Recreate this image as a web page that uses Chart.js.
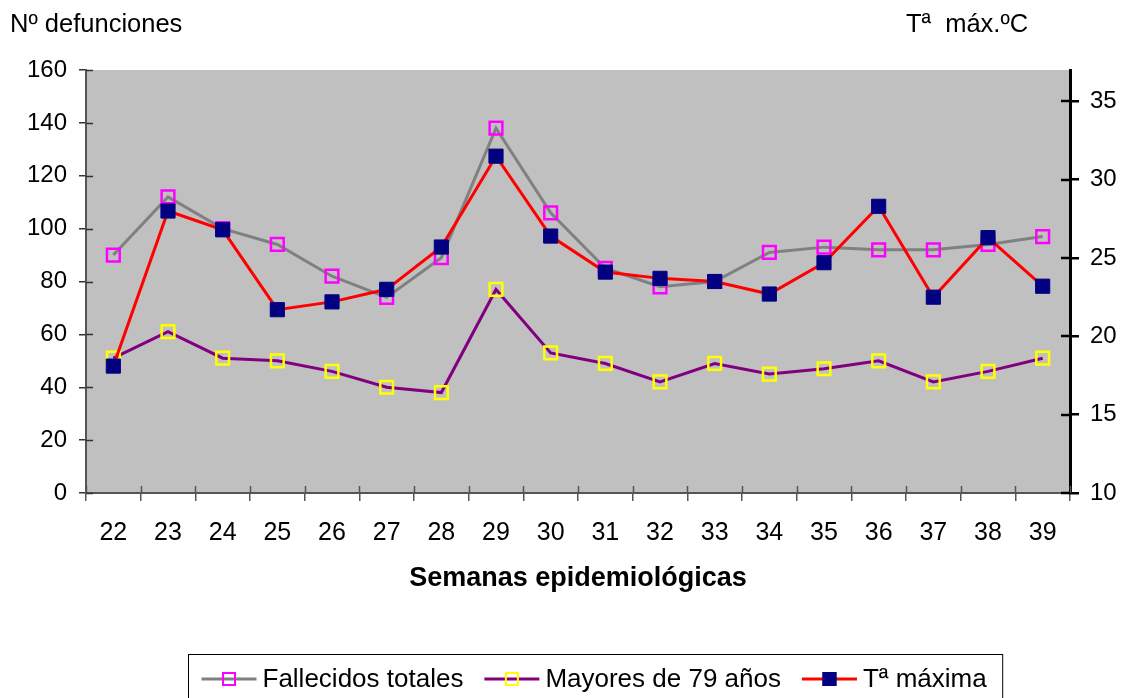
<!DOCTYPE html>
<html>
<head>
<meta charset="utf-8">
<script src="https://cdn.jsdelivr.net/npm/chart.js@4.4.1/dist/chart.umd.min.js"></script>
<style>
  body { margin: 0; background: #fff; }
  #wrap { width: 1123px; height: 698px; }
</style>
</head>
<body>
<div id="wrap"><canvas id="graph"></canvas></div>
<script>
// semanas epidemiologicas
const semanas = ['22', '23', '24', '25', '26', '27', '28', '29', '30', '31', '32', '33', '34', '35', '36', '37', '38', '39'];

// valores
const fallecidosTotales = [90, 112, 100, 94, 82, 74, 89, 138, 106, 85, 78, 80, 91, 93, 92, 92, 94, 97];
const mayores79 = [51, 61, 51, 50, 46, 40, 38, 77, 53, 49, 42, 49, 45, 47, 50, 42, 46, 51];
const tempMaxima = [18.1, 28.0, 26.8, 21.7, 22.2, 23.0, 25.7, 31.5, 26.4, 24.1, 23.7, 23.5, 22.7, 24.7, 28.3, 22.5, 26.3, 23.2];

const defuncionesTicks = [0, 20, 40, 60, 80, 100, 120, 140, 160];
const tempTicks = [10, 15, 20, 25, 30, 35];

const FONT = '"Liberation Sans", Arial, sans-serif';

// fondo gris del area de trazado
const plotBackground = {
  id: 'plotBackground',
  beforeDraw(chart) {
    const { ctx, chartArea: a } = chart;
    ctx.save();
    ctx.fillStyle = '#c0c0c0';
    ctx.fillRect(a.left, a.top, a.right - a.left, a.bottom - a.top);
    ctx.restore();
  }
};

// marcas que cruzan el eje (parte interior) y titulos superiores
const crossTicks = {
  id: 'crossTicks',
  afterDraw(chart) {
    const { ctx, scales } = chart;
    ctx.save();

    const x = scales.x;
    ctx.strokeStyle = '#555';
    ctx.lineWidth = 1.5;
    for (let i = 0; i <= semanas.length; i++) {
      const px = Math.round(x.getPixelForValue(i - 0.5)) + 0.5;
      ctx.beginPath();
      ctx.moveTo(px, x.top);
      ctx.lineTo(px, x.top - 7);
      ctx.stroke();
    }

    const y = scales.y;
    ctx.strokeStyle = '#333';
    y.ticks.forEach(t => {
      const py = Math.round(y.getPixelForValue(t.value)) + 0.5;
      ctx.beginPath();
      ctx.moveTo(y.right, py);
      ctx.lineTo(y.right + 7, py);
      ctx.stroke();
    });

    const y2 = scales.y2;
    ctx.strokeStyle = '#000';
    ctx.lineWidth = 2.5;
    y2.ticks.forEach(t => {
      const py = Math.round(y2.getPixelForValue(t.value));
      ctx.beginPath();
      ctx.moveTo(y2.left, py);
      ctx.lineTo(y2.left - 9, py);
      ctx.stroke();
    });

    ctx.fillStyle = '#000';
    ctx.font = '25.5px ' + FONT;
    ctx.textBaseline = 'middle';
    ctx.textAlign = 'left';
    ctx.fillText('Nº defunciones', 10, 25);
    ctx.fillText('Tª  máx.ºC', 906, 25);

    ctx.restore();
  }
};

// leyenda con linea y marcador, dentro de un recuadro
const boxLegend = {
  id: 'boxLegend',
  afterDraw(chart) {
    const { ctx } = chart;
    const sets = chart.data.datasets;
    ctx.save();
    ctx.font = '26px ' + FONT;
    const sample = 55, gapText = 6, gapItem = 21, padL = 13, padR = 16;
    const widths = sets.map(d => ctx.measureText(d.label).width);
    let total = padL + padR;
    widths.forEach((w, i) => { total += sample + gapText + w + (i < sets.length - 1 ? gapItem : 0); });
    const left = Math.round(595 - total / 2) + 0.5;
    const top = 654.5, h = 50, cy = 679;

    ctx.strokeStyle = '#000';
    ctx.lineWidth = 1;
    ctx.strokeRect(left, top, total, h);

    let cx = left + padL;
    sets.forEach((d, i) => {
      ctx.strokeStyle = d.borderColor;
      ctx.lineWidth = 3;
      ctx.beginPath();
      ctx.moveTo(cx, cy);
      ctx.lineTo(cx + sample, cy);
      ctx.stroke();
      const s = 14;
      if (d.pointBackgroundColor !== 'transparent') {
        ctx.fillStyle = d.pointBackgroundColor;
        ctx.fillRect(cx + sample / 2 - s / 2, cy - s / 2, s, s);
      }
      ctx.strokeStyle = d.pointBorderColor;
      ctx.lineWidth = 2;
      ctx.strokeRect(cx + sample / 2 - s / 2 + 1, cy - s / 2 + 1, s - 2, s - 2);

      ctx.fillStyle = '#000';
      ctx.textBaseline = 'middle';
      ctx.fillText(d.label, cx + sample + gapText, cy + 1);
      cx += sample + gapText + widths[i] + gapItem;
    });
    ctx.restore();
  }
};

const config = {
  type: 'line',
  data: {
    labels: semanas,
    datasets: [
      {
        label: 'Fallecidos totales',
        data: fallecidosTotales,
        yAxisID: 'y',
        borderColor: '#808080',
        borderWidth: 3,
        pointStyle: 'rect',
        pointRadius: 9,
        pointBorderWidth: 2.5,
        pointBorderColor: '#ff00ff',
        pointBackgroundColor: 'transparent',
        order: 1
      }, {
        label: 'Mayores de 79 años',
        data: mayores79,
        yAxisID: 'y',
        borderColor: '#800080',
        borderWidth: 3,
        pointStyle: 'rect',
        pointRadius: 9,
        pointBorderWidth: 2.5,
        pointBorderColor: '#ffff00',
        pointBackgroundColor: 'transparent',
        order: 2
      }, {
        label: 'Tª máxima',
        data: tempMaxima,
        yAxisID: 'y2',
        borderColor: '#ff0000',
        borderWidth: 3,
        pointStyle: 'rect',
        pointRadius: 10,
        pointBorderWidth: 1,
        pointBorderColor: '#000080',
        pointBackgroundColor: '#000080',
        order: 0
      }
    ]
  },
  options: {
    responsive: true,
    maintainAspectRatio: false,
    animation: false,
    layout: { padding: { top: 70, left: 0, right: 0, bottom: 0 } },
    plugins: {
      legend: { display: false },
      tooltip: { enabled: false }
    },
    scales: {
      x: {
        offset: true,
        grid: { offset: true, drawOnChartArea: false, tickLength: 8, color: '#555', lineWidth: 1.5 },
        border: { color: '#555', width: 2 },
        ticks: { color: '#000', font: { family: FONT, size: 25 }, padding: 17, maxRotation: 0, autoSkip: false },
        title: {
          display: true,
          text: 'Semanas epidemiológicas',
          color: '#000',
          font: { family: FONT, size: 27, weight: 'bold' },
          padding: { top: 0, bottom: 103 }
        },
        afterFit(scale) { scale.height = 205; }
      },
      y: {
        position: 'left',
        min: 0,
        max: 160,
        afterBuildTicks(scale) { scale.ticks = defuncionesTicks.map(v => ({ value: v })); },
        grid: { drawOnChartArea: false, tickLength: 7, color: '#333', lineWidth: 1.5 },
        border: { color: '#555', width: 2 },
        ticks: { color: '#000', font: { family: FONT, size: 24 }, padding: 12 },
        afterFit(scale) { scale.width = 86; }
      },
      y2: {
        position: 'right',
        min: 10,
        max: 37,
        afterBuildTicks(scale) { scale.ticks = tempTicks.map(v => ({ value: v })); },
        grid: { drawOnChartArea: false, tickLength: 9, color: '#000', lineWidth: 2.5 },
        border: { color: '#000', width: 3 },
        ticks: { color: '#000', font: { family: FONT, size: 24 }, padding: 11 },
        afterFit(scale) { scale.width = 53; }
      }
    }
  },
  plugins: [plotBackground, crossTicks, boxLegend]
};

new Chart(document.getElementById('graph').getContext('2d'), config);
</script>
</body>
</html>
